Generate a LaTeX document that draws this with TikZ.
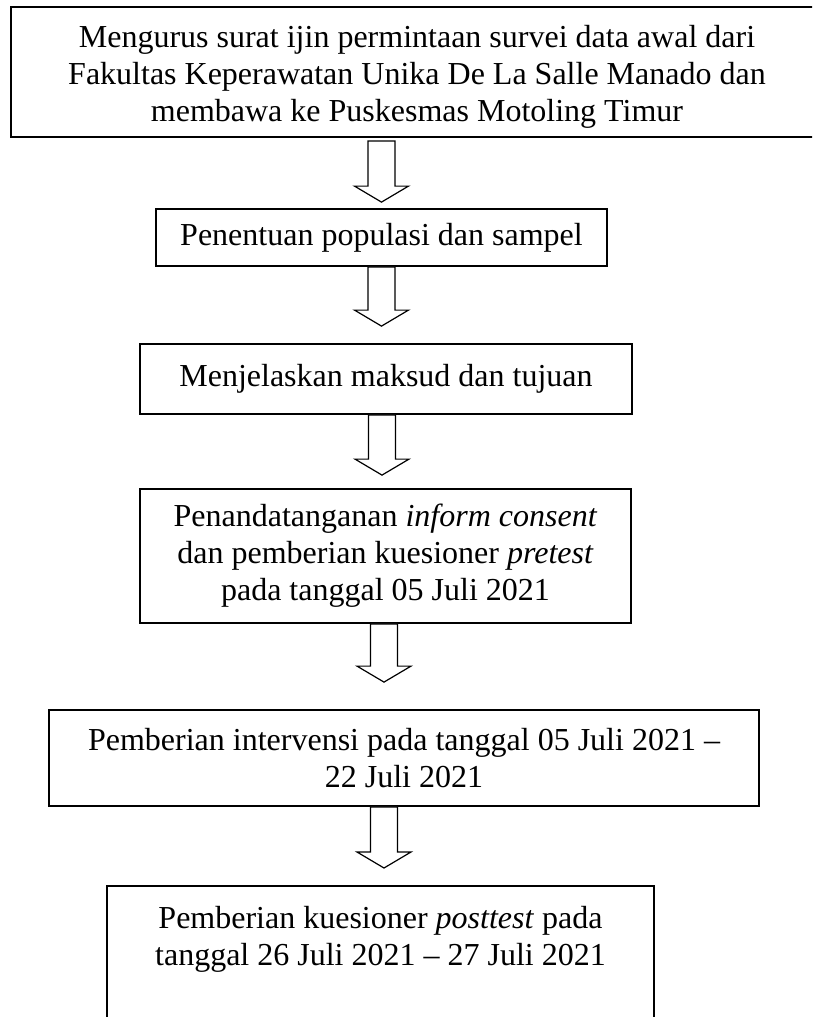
\documentclass[tikz,border=0pt]{standalone}
\usepackage{fontspec}
\setmainfont{Liberation Serif}
\usetikzlibrary{calc}
\tikzset{
  stepbox/.style={draw, line width=1.8pt, inner sep=0pt, align=flush center, font=\fontsize{32}{37}\selectfont},
  barrow/.style={draw, line width=1.2pt, line join=miter, fill=white},
}
% #1 from node, #2 to node, #3 centre x (pt), #4 gap below #1, #5 gap above #2
\newcommand{\blkarrow}[5]{%
  \draw[barrow] let \p1=(#1.south), \p2=(#2.north) in
    ({(#3-13.5)*1pt},{\y1-#4*1pt}) -- ({(#3+13.5)*1pt},{\y1-#4*1pt})
    -- ({(#3+13.5)*1pt},{\y2+(#5+16)*1pt}) -- ({(#3+27)*1pt},{\y2+(#5+16)*1pt})
    -- ({#3*1pt},{\y2+#5*1pt})
    -- ({(#3-27)*1pt},{\y2+(#5+16)*1pt}) -- ({(#3-13.5)*1pt},{\y2+(#5+16)*1pt})
    -- cycle;}
\begin{document}
\begin{tikzpicture}
\useasboundingbox (0,0) rectangle (812pt,-1017pt);
\clip (0,0) rectangle (812pt,-1017pt);
\fill[white] (0,0) rectangle (812pt,-1017pt);
\node[stepbox, minimum width=812pt, minimum height=130pt, text width=800pt] (n1) at (417pt,-72pt)
  {\rule{0pt}{32pt}Mengurus surat ijin permintaan survei data awal dari\\Fakultas Keperawatan Unika De La Salle Manado dan\\membawa ke Puskesmas Motoling Timur};
\node[stepbox, minimum width=451pt, minimum height=57pt, text width=440pt] (n2) at (381.5pt,-237.5pt)
  {Penentuan populasi dan sampel};
\node[stepbox, minimum width=492pt, minimum height=70pt, text width=480pt] (n3) at (386pt,-379pt)
  {Menjelaskan maksud dan tujuan};
\node[stepbox, minimum width=491pt, minimum height=134pt, text width=480pt] (n4) at (385.5pt,-556pt)
  {Penandatanganan \textit{inform consent}\\dan pemberian kuesioner \textit{pretest}\\pada tanggal 05 Juli 2021};
\node[stepbox, minimum width=710pt, minimum height=96pt, text width=700pt] (n5) at (404pt,-758pt)
  {Pemberian intervensi pada tanggal 05 Juli 2021 –\\22 Juli 2021};
\node[stepbox, anchor=north] (n6) at (380.5pt,-885pt)
  {\parbox[t][200pt][t]{547pt}{\centering\rule{0pt}{43pt}Pemberian kuesioner \textit{posttest} pada\\tanggal 26 Juli 2021 – 27 Juli 2021}};
\blkarrow{n1}{n2}{381.5}{3}{6}
\blkarrow{n2}{n3}{381.5}{0}{17}
\blkarrow{n3}{n4}{382}{0}{13}
\blkarrow{n4}{n5}{384}{0}{27}
\blkarrow{n5}{n6}{384}{0}{17}
\end{tikzpicture}
\end{document}
